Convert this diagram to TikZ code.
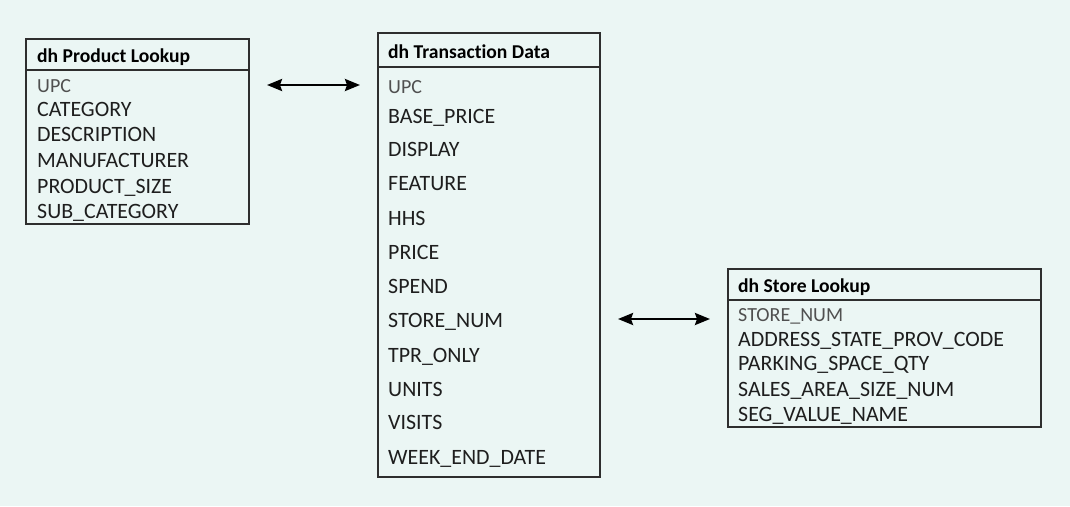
\documentclass[tikz,border=0pt]{standalone}
\usepackage{fontspec}
\setmainfont{Carlito}[Ligatures=CommonOff]
\usepackage{tikz}
\usetikzlibrary{arrows.meta}

\definecolor{bgmint}{HTML}{EBF6F4}
\definecolor{boxline}{HTML}{2E2E2E}
\definecolor{fieldtext}{HTML}{1E1E1E}
\definecolor{keytext}{HTML}{505050}

\tikzset{
  tablebox/.style={draw=boxline, line width=2pt, fill=bgmint, anchor=north west, inner sep=0pt},
  tablehead/.style={anchor=base west, inner sep=0pt, font=\fontsize{19.6}{22}\selectfont\bfseries, text=black},
  keyfield/.style={anchor=base west, inner sep=0pt, font=\fontsize{20}{24}\selectfont, text=keytext},
  field/.style={anchor=base west, inner sep=0pt, font=\fontsize{21.9}{25}\selectfont, text=fieldtext},
  link/.style={line width=2.4pt, {Stealth[length=15pt,width=12pt,inset=2pt]}-{Stealth[length=15pt,width=12pt,inset=2pt]}, shorten <=17pt, shorten >=17pt}
}

\begin{document}
\begin{tikzpicture}[x=1pt, y=-1pt]
        \fill[bgmint] (0,0) rectangle (1070,506);
        \useasboundingbox (0,0) rectangle (1070,506);
        % product lookup
        \node[tablebox, minimum width=223pt, minimum height=185pt] (prod) at (25,38) {};
        \draw[boxline, line width=2pt] (25,70) -- (248,70);
        \node[tablehead] (prodhead) at (37,62) {dh Product Lookup};
        \node[keyfield] (pupc) at (37,92) {UPC};
        \foreach \y/\t [count=\i] in {116/CATEGORY, 141/DESCRIPTION, 167/MANUFACTURER, 193/PRODUCT\_SIZE, 218/SUB\_CATEGORY}
            \node[field] (p\i) at (37,\y) {\t};
        % transaction data
        \node[tablebox, minimum width=222pt, minimum height=444pt] (trans) at (377,32) {};
        \draw[boxline, line width=2pt] (377,67) -- (599,67);
        \node[tablehead] (transhead) at (388,58) {dh Transaction Data};
        \node[keyfield] (tupc) at (388,93) {UPC};
        \foreach \y/\t [count=\i] in {123/BASE\_PRICE, 156/DISPLAY, 190/FEATURE, 225/HHS, 259/PRICE, 293/SPEND,
                327/STORE\_NUM, 362/TPR\_ONLY, 396/UNITS, 429/VISITS, 464/WEEK\_END\_DATE}
            \node[field] (t\i) at (388,\y) {\t};
        % store lookup
        \node[tablebox, minimum width=313pt, minimum height=158pt] (store) at (727,268) {};
        \draw[boxline, line width=2pt] (727,300) -- (1040,300);
        \node[tablehead] (storehead) at (738,292) {dh Store Lookup};
        \node[keyfield] (sstore) at (738,321) {STORE\_NUM};
        \foreach \y/\t [count=\i] in {346/ADDRESS\_STATE\_PROV\_CODE, 370/PARKING\_SPACE\_QTY, 396/SALES\_AREA\_SIZE\_NUM, 421/SEG\_VALUE\_NAME}
            \node[field] (s\i) at (738,\y) {\t};
        % links
        \coordinate (l1) at (0,85);
        \coordinate (l2) at (0,319);
        \draw[link] (prod.east |- l1) -- (trans.west |- l1);
        \draw[link] (trans.east |- l2) -- (store.west |- l2);
\end{tikzpicture}
\end{document}
